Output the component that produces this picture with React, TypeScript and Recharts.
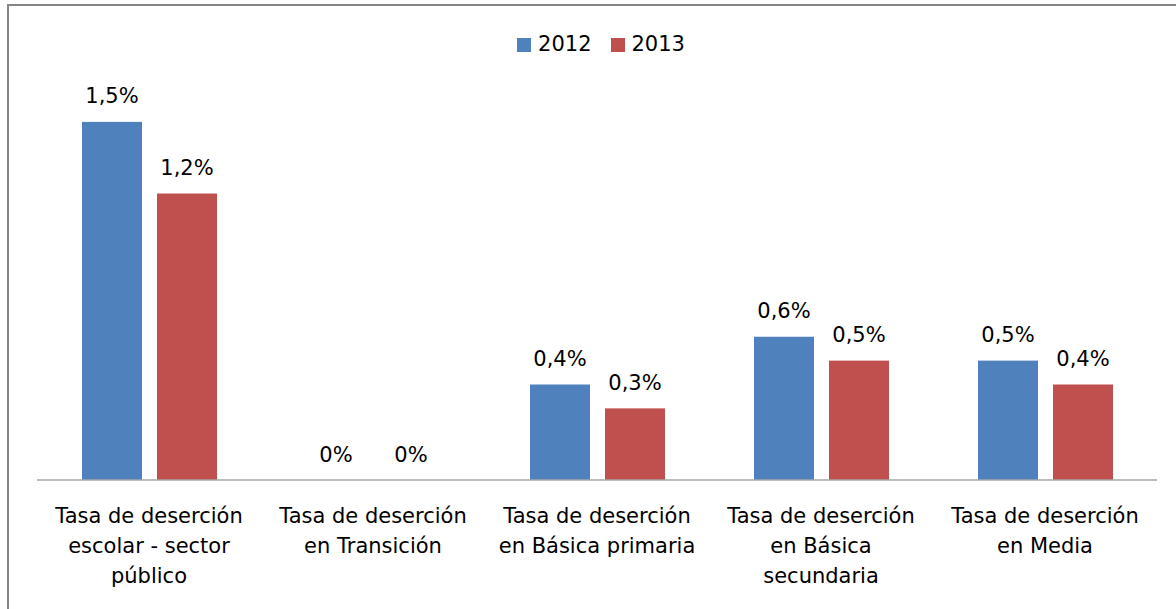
import React from "react";
import { BarChart, Bar, XAxis, YAxis, Legend } from "recharts";

const categories = [
  "Tasa de deserción escolar - sector público",
  "Tasa de deserción en Transición",
  "Tasa de deserción en Básica primaria",
  "Tasa de deserción en Básica secundaria",
  "Tasa de deserción en Media",
];
const values2012 = [1.5, 0, 0.4, 0.6, 0.5];
const values2013 = [1.2, 0, 0.3, 0.5, 0.4];
const seriesNames = ["2012", "2013"];

const data = categories.map((c, i) => ({
  category: c,
  s2012: values2012[i],
  s2013: values2013[i],
}));

const FONT = "'DejaVu Sans', sans-serif";
const BLUE = "#4F81BD";
const RED = "#C0504D";

function wrap(text: string, max: number): string[] {
  const words = text.split(" ");
  const lines: string[] = [];
  let cur = "";
  for (const w of words) {
    const next = cur ? cur + " " + w : w;
    if (next.length > max && cur) {
      lines.push(cur);
      cur = w;
    } else {
      cur = next;
    }
  }
  if (cur) lines.push(cur);
  return lines;
}

const fmt = (v: number) => (v === 0 ? "0%" : v.toFixed(1).replace(".", ",") + "%");

const CategoryTick = (props: any) => {
  const { x, y, payload } = props;
  const lines = wrap(String(payload.value), 18);
  return (
    <g transform={`translate(${x},${y})`}>
      <text textAnchor="middle" fontFamily={FONT} fontSize={21} fill="#000">
        {lines.map((l, i) => (
          <tspan key={i} x={0} dy={i === 0 ? 43 : 30}>
            {l}
          </tspan>
        ))}
      </text>
    </g>
  );
};

const makeShape = (fill: string, key: string) => (props: any) => {
  const x = Number(props.x);
  const y = Number(props.y);
  const width = Number(props.width);
  const height = Math.max(0, Number(props.height) || 0);
  const value = props.payload ? props.payload[key] : props.value;
  return (
    <g>
      {height > 0 && <rect x={x} y={y} width={width} height={height} fill={fill} />}
      <text
        x={x + width / 2}
        y={y - 18.5}
        textAnchor="middle"
        fontFamily={FONT}
        fontSize={21}
        fill="#000"
      >
        {fmt(Number(value))}
      </text>
    </g>
  );
};

const LegendContent = () => {
  const colors = [BLUE, RED];
  return (
    <div
      style={{
        display: "flex",
        justifyContent: "center",
        alignItems: "center",
        paddingLeft: 26,
        fontFamily: FONT,
        fontSize: 21,
        lineHeight: "25px",
        height: 25,
        color: "#000",
      }}
    >
      {seriesNames.map((n, i) => (
        <div
          key={n}
          style={{ display: "flex", alignItems: "center", marginRight: i === 0 ? 19 : 0 }}
        >
          <div style={{ width: 14, height: 14, background: colors[i], marginRight: 7 }} />
          <span>{n}</span>
        </div>
      ))}
    </div>
  );
};

export default function App() {
  return (
    <div
      style={{
        position: "absolute",
        left: 0,
        top: 0,
        width: 1176,
        height: 609,
        overflow: "hidden",
        background: "#fff",
      }}
    >
      <div
        style={{
          position: "absolute",
          left: 7,
          top: 4,
          width: 1300,
          height: 700,
          borderLeft: "2px solid #868686",
          borderTop: "2px solid #868686",
        }}
      />
      <div style={{ position: "absolute", left: 0, top: 0 }}>
        <BarChart
          width={1176}
          height={609}
          data={data}
          margin={{ top: 73, right: 19, bottom: 99, left: 37 }}
          barSize={60}
          barGap={15}
        >
          <XAxis
            dataKey="category"
            height={30}
            tickLine={false}
            tickSize={0}
            tickMargin={0}
            axisLine={{ stroke: "#a6a6a6", strokeWidth: 1.5 }}
            tick={<CategoryTick />}
            interval={0}
          />
          <YAxis hide domain={[0, 1.6]} />
          <Legend
            verticalAlign="top"
            wrapperStyle={{ position: "absolute", top: 32, left: 0, width: 1176 }}
            content={<LegendContent />}
          />
          <Bar
            dataKey="s2012"
            name={seriesNames[0]}
            fill={BLUE}
            isAnimationActive={false}
            shape={makeShape(BLUE, "s2012")}
          />
          <Bar
            dataKey="s2013"
            name={seriesNames[1]}
            fill={RED}
            isAnimationActive={false}
            shape={makeShape(RED, "s2013")}
          />
        </BarChart>
      </div>
    </div>
  );
}
